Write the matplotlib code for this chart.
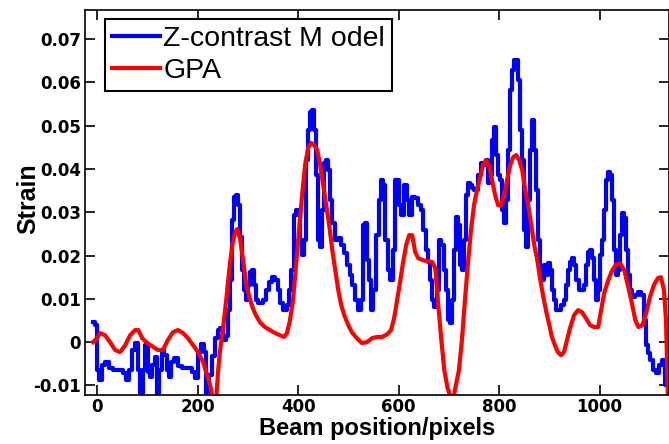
import numpy as np
import matplotlib
matplotlib.use('Agg')
from matplotlib import pyplot as plt

# Z-contrast model strain (values in units of 1e-3)
zc_pos = [-8, -2, 2, 6, 12, 20, 26, 36, 46, 56,
          60, 66, 72, 80, 84, 88, 94, 98, 103, 107,
          113, 117, 121, 127, 131, 137, 141, 145, 151, 157,
          165, 175, 185, 193, 197, 203, 209, 215, 219, 225,
          231, 237, 243, 247, 253, 259, 263, 267, 271, 275,
          279, 283, 287, 291, 295, 299, 302, 306, 310, 314,
          318, 322, 328, 334, 340, 346, 352, 358, 362, 368,
          374, 380, 384, 388, 394, 398, 402, 406, 410, 414,
          418, 422, 426, 430, 434, 438, 442, 446, 450, 454,
          458, 462, 466, 470, 476, 482, 488, 494, 500, 505,
          511, 517, 523, 527, 531, 535, 539, 543, 547, 553,
          559, 563, 567, 571, 575, 581, 585, 591, 595, 599,
          603, 607, 613, 619, 623, 629, 635, 641, 647, 651,
          657, 661, 665, 669, 673, 679, 683, 687, 693, 697,
          700, 704, 708, 712, 716, 720, 724, 728, 732, 736,
          740, 744, 748, 754, 760, 766, 772, 776, 780, 784,
          788, 792, 796, 800, 804, 808, 812, 816, 820, 824,
          828, 832, 836, 840, 844, 848, 852, 856, 860, 864,
          868, 872, 876, 880, 884, 888, 892, 896, 899, 903,
          907, 911, 915, 921, 927, 931, 935, 939, 943, 947,
          951, 955, 961, 967, 971, 975, 979, 983, 987, 991,
          995, 999, 1003, 1007, 1011, 1015, 1019, 1023, 1027, 1031,
          1035, 1039, 1043, 1047, 1051, 1055, 1059, 1063, 1067, 1073,
          1079, 1085, 1091, 1095, 1098, 1104, 1110, 1116, 1122, 1128,
          1134]
zc_strain = np.array([
    4.6, 3.9, -6.5, -8.8, -5.3, -4.6, -6.0, -6.5, -6.5, -7.2,
    -8.8, -6.5, -1.8, -0.2, -6.5, -12.9, -6.5, -0.7, -6.9, -8.1,
    -5.3, -3.5, -12.9, -6.5, -1.8, -3.0, -6.5, -8.1, -4.6, -3.7,
    -5.5, -6.0, -6.0, -6.9, -8.3, -2.3, -0.5, -2.3, -12.9, -7.6,
    -3.2, 0.9, 2.8, 3.2, 0.5, 1.4, 7.4, 14.3, 28.2, 33.5,
    34.0, 31.6, 24.3, 16.6, 12.0, 9.7, 13.2, 16.2, 16.6, 13.2,
    9.7, 9.0, 9.0, 9.7, 12.0, 13.9, 15.0, 14.3, 12.0, 9.0,
    7.4, 8.5, 12.0, 16.6, 29.3, 30.5, 29.3, 23.6, 20.1, 23.6,
    42.0, 49.0, 53.1, 53.6, 49.0, 38.6, 23.6, 21.9, 30.5, 41.3,
    42.0, 39.7, 32.8, 27.5, 23.6, 24.0, 22.4, 20.6, 17.8, 15.5,
    13.2, 9.7, 7.4, 9.7, 27.0, 27.5, 18.9, 14.3, 7.4, 12.0,
    24.7, 32.8, 37.4, 36.3, 23.6, 16.6, 14.3, 21.3, 37.4, 37.4,
    31.6, 29.3, 36.3, 32.8, 29.3, 33.5, 33.3, 31.6, 30.5, 25.9,
    21.3, 18.5, 14.3, 9.7, 8.1, 12.0, 23.6, 22.4, 16.6, 12.0,
    5.1, 4.4, 9.7, 21.3, 28.9, 27.0, 17.8, 16.6, 23.6, 34.0,
    36.7, 36.3, 35.6, 35.1, 38.6, 41.3, 40.9, 42.0, 36.7, 38.6,
    46.7, 49.7, 43.2, 38.6, 37.4, 30.5, 27.5, 32.8, 44.4, 58.2,
    62.8, 65.1, 65.1, 60.5, 49.0, 42.0, 25.9, 21.9, 32.8, 44.4,
    51.3, 44.4, 35.1, 23.6, 16.6, 14.3, 17.8, 15.5, 18.2, 16.6,
    12.0, 9.7, 7.4, 7.4, 8.5, 9.7, 13.2, 16.6, 18.5, 19.4,
    17.8, 14.3, 12.0, 12.0, 13.2, 17.8, 20.8, 21.3, 19.4, 14.3,
    9.7, 12.0, 20.1, 23.6, 30.5, 37.4, 39.3, 38.6, 32.8, 21.3,
    15.5, 16.6, 24.7, 29.8, 28.6, 21.3, 15.5, 12.0, 10.4, 10.9,
    11.6, 10.9, 5.1, -0.7, -2.5, -4.2, -6.5, -7.2, -5.3, -4.2,
    -9.9]) * 1e-3

# GPA strain (values in units of 1e-3)
gpa_pos = [-8, 0, 6, 16, 26, 36, 46, 56, 66, 76,
           82, 90, 100, 109, 121, 131, 141, 151, 161, 171,
           181, 191, 201, 211, 219, 225, 231, 237, 241, 245,
           251, 257, 263, 269, 275, 279, 285, 291, 297, 302,
           308, 314, 324, 334, 344, 354, 364, 372, 378, 384,
           390, 396, 402, 408, 414, 420, 426, 432, 438, 444,
           450, 456, 462, 468, 474, 480, 486, 492, 500, 507,
           517, 527, 537, 547, 557, 567, 577, 585, 591, 597,
           603, 609, 615, 621, 627, 633, 639, 649, 659, 667,
           673, 679, 685, 691, 697, 702, 708, 714, 720, 726,
           732, 738, 744, 750, 756, 762, 768, 774, 780, 786,
           792, 798, 804, 810, 816, 822, 828, 834, 840, 846,
           852, 858, 864, 870, 876, 882, 888, 894, 900, 905,
           911, 917, 923, 929, 935, 941, 949, 957, 965, 973,
           981, 989, 997, 1003, 1009, 1017, 1025, 1033, 1041, 1049,
           1057, 1065, 1071, 1077, 1085, 1093, 1100, 1108, 1116, 1122,
           1128, 1132, 1136]
gpa_strain = np.array([
    0.0, 0.9, 2.1, 1.6, 0.0, -1.8, -2.3, -0.7, 1.6, 2.8,
    2.8, 0.9, -0.2, -0.9, -1.8, -1.8, 0.5, 2.3, 2.8, 2.1,
    0.9, -0.7, -2.3, -4.6, -7.6, -9.9, -13.5, -13.5, -6.5, -1.8,
    3.5, 9.7, 16.6, 22.4, 25.4, 26.1, 23.6, 18.5, 13.2, 10.9,
    8.5, 6.7, 4.6, 3.5, 2.8, 2.1, 1.6, 1.2, 2.1, 5.1,
    9.7, 17.8, 25.9, 34.0, 40.9, 44.8, 46.0, 45.5, 44.4, 40.9,
    36.3, 31.6, 27.0, 21.3, 16.6, 12.0, 8.5, 6.2, 3.9, 2.3,
    0.9, -0.2, 0.0, 0.9, 1.2, 1.2, 1.8, 2.8, 5.5, 9.7,
    13.9, 18.5, 22.4, 24.7, 24.7, 20.8, 19.4, 18.9, 18.7, 18.5,
    17.1, 8.5, 0.5, -6.5, -10.4, -12.2, -13.5, -9.9, -6.5, 0.5,
    9.7, 18.2, 25.9, 31.6, 35.1, 37.9, 40.9, 42.0, 40.9, 37.4,
    34.0, 31.6, 31.6, 34.0, 37.4, 40.9, 42.7, 43.2, 42.0, 39.7,
    35.1, 31.6, 27.0, 22.4, 18.9, 14.3, 10.4, 6.9, 3.9, 1.2,
    -0.7, -2.3, -3.0, -2.3, 0.5, 3.2, 6.2, 7.4, 6.9, 5.5,
    3.9, 3.5, 3.5, 7.4, 11.3, 14.3, 16.6, 18.0, 18.2, 16.6,
    12.7, 8.5, 5.1, 3.5, 3.9, 6.9, 10.4, 13.2, 14.8, 15.0,
    12.0, 5.1, -13.5]) * 1e-3

x_ticks = [0, 200, 400, 600, 800, 1000]
y_ticks = [-0.01, 0, 0.01, 0.02, 0.03, 0.04, 0.05, 0.06, 0.07]
y_ticklabels = ['-0.01', '0', '0.01', '0.02', '0.03', '0.04', '0.05', '0.06', '0.07']


fig = plt.figure(figsize=(6.69, 4.44), dpi=100)
ax = fig.add_axes([0.127, 0.110, 0.873, 0.8675])

ax.plot(zc_pos, zc_strain, color='#0000ff', lw=3, drawstyle='steps-mid',
        label='Z-contrast M odel')
ax.plot(gpa_pos, gpa_strain, color='#ff0000', lw=3, label='GPA')

ax.set_xlim(-24, 1138)
ax.set_ylim(-0.01224, 0.0767)

ax.set_xticks(x_ticks)
ax.set_yticks(y_ticks)
ax.set_yticklabels(y_ticklabels)
ax.tick_params(direction='in', top=True, right=True, length=7, width=1.2)
ax.tick_params(axis='x', pad=2)
ax.tick_params(axis='y', pad=3)
for lab in ax.get_xticklabels() + ax.get_yticklabels():
    lab.set_fontfamily('DejaVu Sans')
    lab.set_fontweight('bold')
    lab.set_fontsize(12)
for sp in ax.spines.values():
    sp.set_linewidth(1.2)

ax.set_xlabel('Beam position/pixels', family='Liberation Sans',
              weight='bold', fontsize=17)
ax.xaxis.set_label_coords(0.50, -0.058)
ax.set_ylabel('Strain', family='Liberation Sans', weight='bold', fontsize=18)
ax.yaxis.set_label_coords(-0.077, 0.51)

leg = ax.legend(loc='upper left', bbox_to_anchor=(0.034, 0.977),
                borderaxespad=0, fancybox=False, framealpha=1,
                edgecolor='black', handlelength=1.7, handletextpad=0.1,
                borderpad=0.25, labelspacing=0.2,
                prop={'family': 'Liberation Sans', 'size': 20.5})
leg.get_frame().set_linewidth(1.5)

fig.savefig('out.png', dpi=100)
